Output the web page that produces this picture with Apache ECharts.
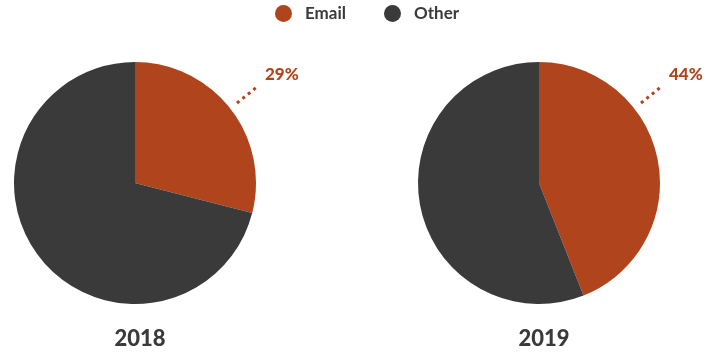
<!DOCTYPE html>
<html><head><meta charset="utf-8">
<script src="https://cdn.jsdelivr.net/npm/echarts@6/dist/echarts.min.js"></script>
<style>html,body{margin:0;padding:0;background:#fff}#c{width:712px;height:352px}</style>
</head><body><div id="c"></div>
<script>
const categories = ['Email', 'Other'];
const years = ['2018', '2019'];
const values2018 = [29, 71];
const values2019 = [44, 56];
const colors = ['#B0441D', '#3A3A3A'];
const centers = [[135, 183], [539, 183]];
const R = 121;
const FONT = 'Lato, "Open Sans", sans-serif';

const chart = echarts.init(document.getElementById('c'), null, {renderer: 'canvas'});

function makeSeries(idx, vals) {
  const c = centers[idx];
  return {
    type: 'pie',
    name: years[idx],
    center: c,
    radius: [0, R],
    startAngle: 90,
    clockwise: true,
    silent: true,
    animation: false,
    avoidLabelOverlap: false,
    emphasis: {disabled: true},
    data: categories.map((n, i) => ({
      name: n, value: vals[i],
      itemStyle: {color: colors[i]},
      label: {show: i === 0},
      labelLine: {show: i === 0}
    })),
    label: {
      show: true,
      formatter: p => p.value + '%',
      color: colors[0],
      fontFamily: FONT,
      fontWeight: 900,
      fontSize: 17,
      position: 'outside',
      overflow: 'none',
      width: 60
    },
    labelLine: {
      show: true,
      lineStyle: {color: colors[0], width: 3, type: [3, 4]}
    },
    labelLayout: function (p) {
      return {
        x: c[0] + 130,
        y: c[1] - 108,
        align: 'left',
        verticalAlign: 'middle',
        labelLinePoints: [[c[0] + 102, c[1] - 80], [c[0] + 112, c[1] - 88], [c[0] + 123, c[1] - 97]]
      };
    }
  };
}

chart.setOption({
  animation: false,
  color: colors,
  legend: {
    top: 0,
    left: 270,
    icon: 'circle',
    itemWidth: 17,
    itemHeight: 17,
    itemGap: 38,
    selectedMode: false,
    data: categories,
    textStyle: {fontFamily: FONT, fontSize: 17, fontWeight: 700, color: '#3A3A3A', padding: [0, 0, 0, 8]}
  },
  title: years.map((y, i) => ({
    text: y,
    left: centers[i][0],
    top: 323,
    textAlign: 'center',
    textStyle: {fontFamily: FONT, fontSize: 22, fontWeight: 900, color: '#3A3A3A'}
  })),
  series: [makeSeries(0, values2018), makeSeries(1, values2019)]
});
</script></body></html>
